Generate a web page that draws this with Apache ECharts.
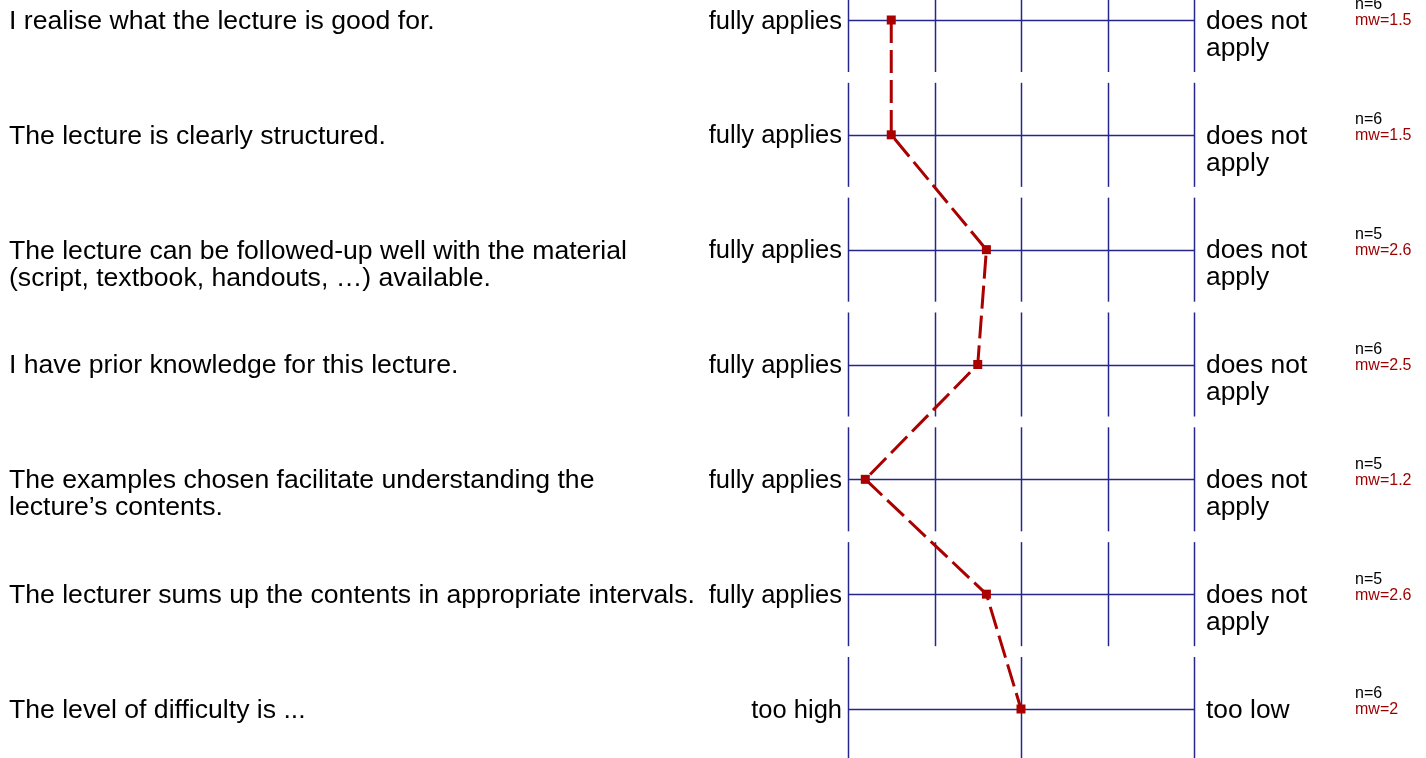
<!DOCTYPE html>
<html>
<head>
<meta charset="utf-8">
<script src="https://cdn.jsdelivr.net/npm/echarts@6/dist/echarts.min.js"></script>
<style>
  html, body { margin: 0; padding: 0; background: #fff; }
  #chart { width: 1426px; height: 758px; }
</style>
</head>
<body>
<div id="chart"></div>
<script>
// questions, one per row (top to bottom)
const questions = [
    'I realise what the lecture is good for.',
    'The lecture is clearly structured.',
    'The lecture can be followed-up well with the material\n(script, textbook, handouts, …) available.',
    'I have prior knowledge for this lecture.',
    'The examples chosen facilitate understanding the\nlecture’s contents.',
    'The lecturer sums up the contents in appropriate intervals.',
    'The level of difficulty is ...'
];
const leftPoles = ['fully applies', 'fully applies', 'fully applies', 'fully applies', 'fully applies', 'fully applies', 'too high'];
const rightPoles = ['does not\napply', 'does not\napply', 'does not\napply', 'does not\napply', 'does not\napply', 'does not\napply', 'too low'];
// number of scale points for each question
const scalePoints = [5, 5, 5, 5, 5, 5, 3];
const counts = [6, 6, 5, 6, 5, 5, 6];
const means = [1.5, 1.5, 2.6, 2.5, 1.2, 2.6, 2];

const GRID_COLOR = '#26268c';
const RED = '#aa0000';
const FONT = 'Liberation Sans';

// map a mean on a k-point scale onto the common 1..5 axis
function toAxis(v, k) {
    return 1 + (v - 1) * 4 / (k - 1);
}

const rows = questions.map((q, i) => [i, scalePoints[i]]);
const profile = means.map((m, i) => [toAxis(m, scalePoints[i]), i]);

const chart = echarts.init(document.getElementById('chart'));

function txt(x, y, text, size, align, color) {
    return {
        type: 'text',
        x: x, y: y,
        style: {
            text: text, fill: color || '#000',
            fontFamily: FONT, fontSize: size, lineHeight: 27,
            align: align, verticalAlign: 'top'
        }
    };
}

function renderRow(params, api) {
    const row = api.value(0);
    const k = api.value(1);
    const half = 0.453;
    const children = [];
    const lineStyle = {stroke: GRID_COLOR, lineWidth: 1.5};

    for (let j = 0; j < k; j++) {
        const xv = toAxis(j + 1, k);
        const p1 = api.coord([xv, row - half]);
        const p2 = api.coord([xv, row + half]);
        children.push({
            type: 'line',
            shape: {x1: Math.round(p1[0]) + 0.5, y1: p1[1], x2: Math.round(p1[0]) + 0.5, y2: p2[1]},
            style: lineStyle
        });
    }
    const a = api.coord([1, row]);
    const b = api.coord([5, row]);
    children.push({
        type: 'line',
        shape: {x1: a[0], y1: Math.round(a[1]) + 0.5, x2: b[0], y2: Math.round(a[1]) + 0.5},
        style: lineStyle
    });

    const top = a[1] - 12;
    children.push(txt(9, top, questions[row], 26.6, 'left'));
    children.push(txt(a[0] - 6, top, leftPoles[row], 25.5, 'right'));
    children.push(txt(b[0] + 12, top, rightPoles[row], 26.4, 'left'));

    const n = txt(b[0] + 161, a[1] - 23, 'n=' + counts[row], 16, 'left');
    n.style.lineHeight = 16;
    const mw = txt(b[0] + 161, a[1] - 7, 'mw=' + means[row], 16, 'left', '#9a0000');
    mw.style.lineHeight = 16;
    children.push(n, mw);

    return {type: 'group', children: children};
}

chart.setOption({
    animation: false,
    backgroundColor: '#fff',
    grid: {left: 848, right: 1426 - 1194, top: 20, bottom: 758 - 709, containLabel: false},
    xAxis: {
        type: 'value', min: 1, max: 5,
        show: false
    },
    yAxis: {
        type: 'value', min: 0, max: 6, inverse: true,
        show: false
    },
    series: [
        {
            type: 'custom',
            clip: false,
            silent: true,
            data: rows,
            renderItem: renderRow,
            z: 1
        },
        {
            type: 'line',
            data: profile,
            symbol: 'rect',
            symbolSize: 9,
            itemStyle: {color: RED},
            lineStyle: {color: RED, width: 3, type: [23, 7]},
            z: 5
        }
    ]
});
</script>
</body>
</html>
